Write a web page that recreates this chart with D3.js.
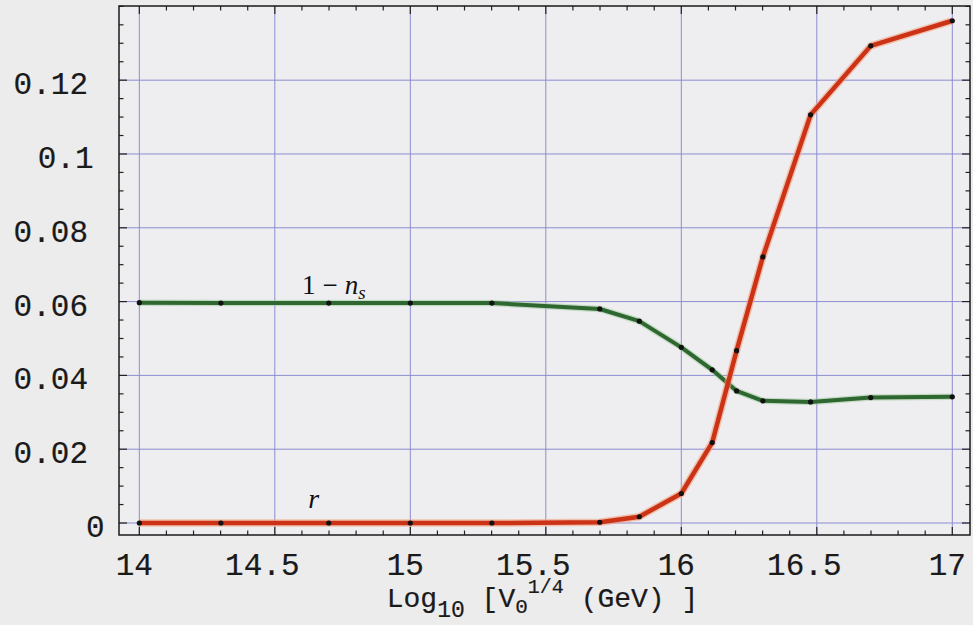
<!DOCTYPE html>
<html><head><meta charset="utf-8">
<script src="https://cdn.jsdelivr.net/npm/d3@7"></script>
<style>
html,body{margin:0;padding:0;background:#ececec;}
svg{display:block;}
</style></head><body>
<svg id="chart" width="973" height="625"></svg>
<script>
// Inflation observables versus the scale of the potential
const logV = [14, 14.301, 14.699, 15, 15.301, 15.699, 15.845, 16, 16.114, 16.204, 16.301, 16.477, 16.699, 17];
const oneMinusNs = [0.0597, 0.0596, 0.0596, 0.0596, 0.0596, 0.0580, 0.0547, 0.0476, 0.0415, 0.0358, 0.0331, 0.0328, 0.0340, 0.0342];
const tensorRatio = [0.0000, 0.0000, 0.0000, 0.0000, 0.0000, 0.0002, 0.0017, 0.0080, 0.0218, 0.0467, 0.0721, 0.1106, 0.1293, 0.1361];

const xTicks = [14, 14.5, 15, 15.5, 16, 16.5, 17];
const xTickLabels = ["14", "14.5", "15", "15.5", "16", "16.5", "17"];
const yTicks = [0, 0.02, 0.04, 0.06, 0.08, 0.1, 0.12];
const yTickLabels = ["0", "0.02", "0.04", "0.06", "0.08", "0.1", "0.12"];

const svg = d3.select("#chart");
const plotLeft = 119, plotRight = 970, plotTop = 6, plotBottom = 535;

const x = d3.scaleLinear().domain([13.925, 17.0653]).range([plotLeft, plotRight]);
const y = d3.scaleLinear().domain([-0.00325, 0.1401]).range([plotBottom, plotTop]);

// plot background
svg.append("rect").attr("x", plotLeft).attr("y", plotTop)
  .attr("width", plotRight - plotLeft).attr("height", plotBottom - plotTop)
  .attr("fill", "#eeeef1");

// grid lines at the major ticks
const grid = svg.append("g").attr("stroke", "#8c8cd0").attr("stroke-width", 1);
grid.selectAll("line.gx").data(xTicks).join("line").attr("class", "gx")
  .attr("x1", d => x(d)).attr("x2", d => x(d)).attr("y1", plotTop).attr("y2", plotBottom);
grid.selectAll("line.gy").data(yTicks).join("line").attr("class", "gy")
  .attr("x1", plotLeft).attr("x2", plotRight).attr("y1", d => y(d)).attr("y2", d => y(d));

// inward ticks on all four sides
const xMinor = d3.range(140, 171).map(v => v / 10);
const yMinor = d3.range(0, 29).map(v => v * 0.005);
const isMajorX = v => xTicks.some(t => Math.abs(t - v) < 1e-6);
const isMajorY = v => yTicks.some(t => Math.abs(t - v) < 1e-6);
const ticks = svg.append("g").attr("stroke", "#222").attr("stroke-width", 1.2);
xMinor.forEach(v => {
  const len = isMajorX(v) ? 8 : 4.5;
  ticks.append("line").attr("x1", x(v)).attr("x2", x(v)).attr("y1", plotBottom).attr("y2", plotBottom - len);
  ticks.append("line").attr("x1", x(v)).attr("x2", x(v)).attr("y1", plotTop).attr("y2", plotTop + len);
});
yMinor.forEach(v => {
  const len = isMajorY(v) ? 8 : 4.5;
  ticks.append("line").attr("x1", plotLeft).attr("x2", plotLeft + len).attr("y1", y(v)).attr("y2", y(v));
  ticks.append("line").attr("x1", plotRight).attr("x2", plotRight - len).attr("y1", y(v)).attr("y2", y(v));
});

// frame
svg.append("rect").attr("x", plotLeft).attr("y", plotTop)
  .attr("width", plotRight - plotLeft).attr("height", plotBottom - plotTop)
  .attr("fill", "none").attr("stroke", "#1a1a1a").attr("stroke-width", 1.5);

// tick labels
const mono = "'Liberation Mono', 'DejaVu Sans Mono', monospace";
svg.append("g").selectAll("text").data(yTicks).join("text")
  .attr("x", (d, i) => 110 - 5.5 * yTickLabels[i].length)
  .attr("y", d => y(d) + 14)
  .attr("text-anchor", "end")
  .attr("font-family", mono).attr("font-size", 31)
  .attr("fill", "#1a1a1a").attr("stroke", "#1a1a1a").attr("stroke-width", 0.2)
  .text((d, i) => yTickLabels[i]);

svg.append("g").selectAll("text").data(xTicks).join("text")
  .attr("x", (d, i) => x(d) - 5 - 3.75 * (xTickLabels[i].length - 2))
  .attr("y", 575)
  .attr("text-anchor", "middle")
  .attr("font-family", mono).attr("font-size", 31)
  .attr("fill", "#1a1a1a").attr("stroke", "#1a1a1a").attr("stroke-width", 0.2)
  .text((d, i) => xTickLabels[i]);

// x axis title
const title = svg.append("text")
  .attr("x", (plotLeft + plotRight) / 2 - 2).attr("y", 607)
  .attr("text-anchor", "middle")
  .attr("font-family", mono).attr("font-size", 28)
  .attr("fill", "#1a1a1a").attr("stroke", "#1a1a1a").attr("stroke-width", 0.2);
title.append("tspan").text("Log");
title.append("tspan").attr("font-size", 23).attr("dy", 10).text("10");
title.append("tspan").attr("dy", -10).text(" [V");
title.append("tspan").attr("font-size", 21).attr("dy", 6).text("0");
title.append("tspan").attr("font-size", 20).attr("dy", -20).text("1/4");
title.append("tspan").attr("dy", 14).text(" (GeV) ]");

// series lines
const line = vals => d3.line().x((d, i) => x(logV[i])).y(d => y(d))(vals);

svg.append("path").attr("d", line(oneMinusNs)).attr("fill", "none")
  .attr("stroke", "#9cc59a").attr("stroke-width", 6.5).attr("opacity", 0.5)
  .attr("stroke-linejoin", "round");
svg.append("path").attr("d", line(oneMinusNs)).attr("fill", "none")
  .attr("stroke", "#2e672f").attr("stroke-width", 4)
  .attr("stroke-linejoin", "round");

svg.append("path").attr("d", line(tensorRatio)).attr("fill", "none")
  .attr("stroke", "#f2a27e").attr("stroke-width", 7.5).attr("opacity", 0.6)
  .attr("stroke-linejoin", "round");
svg.append("path").attr("d", line(tensorRatio)).attr("fill", "none")
  .attr("stroke", "#cc3216").attr("stroke-width", 4.5)
  .attr("stroke-linejoin", "round");

// sample points
[oneMinusNs, tensorRatio].forEach(vals => {
  svg.append("g").selectAll("circle").data(vals).join("circle")
    .attr("cx", (d, i) => x(logV[i])).attr("cy", d => y(d))
    .attr("r", 2.6).attr("fill", "#111");
});

// series labels
const serif = "'Liberation Serif', 'DejaVu Serif', serif";
const nsLabel = svg.append("text")
  .attr("x", x(14.699) + 5).attr("y", y(oneMinusNs[2]) - 9)
  .attr("text-anchor", "middle")
  .attr("font-family", serif).attr("font-size", 27).attr("fill", "#111");
nsLabel.append("tspan").text("1");
nsLabel.append("tspan").attr("dx", 7).text("\u2212");
nsLabel.append("tspan").attr("dx", 7).attr("font-style", "italic").text("n");
nsLabel.append("tspan").attr("font-style", "italic").attr("font-size", 19).attr("dy", 5).text("s");

svg.append("text")
  .attr("x", x(14.699) - 15).attr("y", y(tensorRatio[2]) - 15)
  .attr("text-anchor", "middle")
  .attr("font-family", serif).attr("font-size", 28).attr("font-style", "italic")
  .attr("fill", "#111").text("r");
</script>
</body></html>
